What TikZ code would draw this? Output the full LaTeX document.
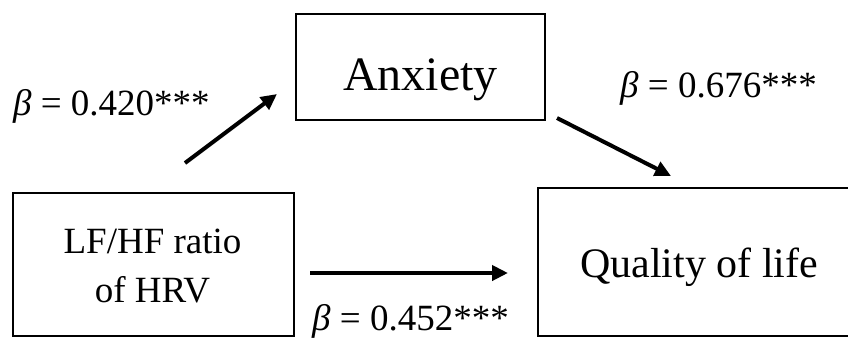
\documentclass[tikz,border=0pt]{standalone}
\usepackage{fontspec}
\setmainfont{Liberation Serif}
\usetikzlibrary{arrows.meta}
\tikzset{
  box/.style={draw=black, line width=1.6pt, inner sep=0pt},
  lbl/.style={inner sep=0pt, anchor=base west, font=\fontsize{37}{37}\selectfont},
  txt/.style={inner sep=0pt, anchor=base},
  arr/.style={line width=4pt, -{Triangle[length=16pt,width=15pt]}},
}
\begin{document}
\begin{tikzpicture}[x=1pt,y=-1pt]
\useasboundingbox (0,0) rectangle (848,338);
\clip (0,0) rectangle (848,338);
% boxes
\node[box, minimum width=249pt, minimum height=106pt] (anx) at (420.5,67) {};
\node[box, minimum width=281pt, minimum height=143pt] (lf) at (153.5,264.5) {};
\node[box, minimum width=322pt, minimum height=148pt] (qol) at (699,262) {};
% box texts
\node[txt, font=\fontsize{48}{48}\selectfont] (anxt) at (420.5,90) {Anxiety};
\node[txt, font=\fontsize{37}{37}\selectfont] (lft1) at (152.5,253) {LF/HF ratio};
\node[txt, font=\fontsize{37}{37}\selectfont] (lft2) at (152.5,302) {of HRV};
\node[txt, font=\fontsize{42}{42}\selectfont] (qolt) at (699,277) {Quality of life};
% arrow ends
\coordinate (a1s) at (185,163);
\coordinate (a1e) at (277,94);
\coordinate (a2s) at (557,118);
\coordinate (a2e) at (671,176);
\coordinate (a3s) at (310,273);
\coordinate (a3e) at (508,273);
\draw[arr] (a1s) -- (a1e);
\draw[arr] (a2s) -- (a2e);
\draw[arr] (a3s) -- (a3e);
% labels
\node[lbl] (b1) at (13,115) {\textit{β} = 0.420***};
\node[lbl] (b2) at (620,97) {\textit{β} = 0.676***};
\node[lbl] (b3) at (312,330) {\textit{β} = 0.452***};
\end{tikzpicture}
\end{document}
